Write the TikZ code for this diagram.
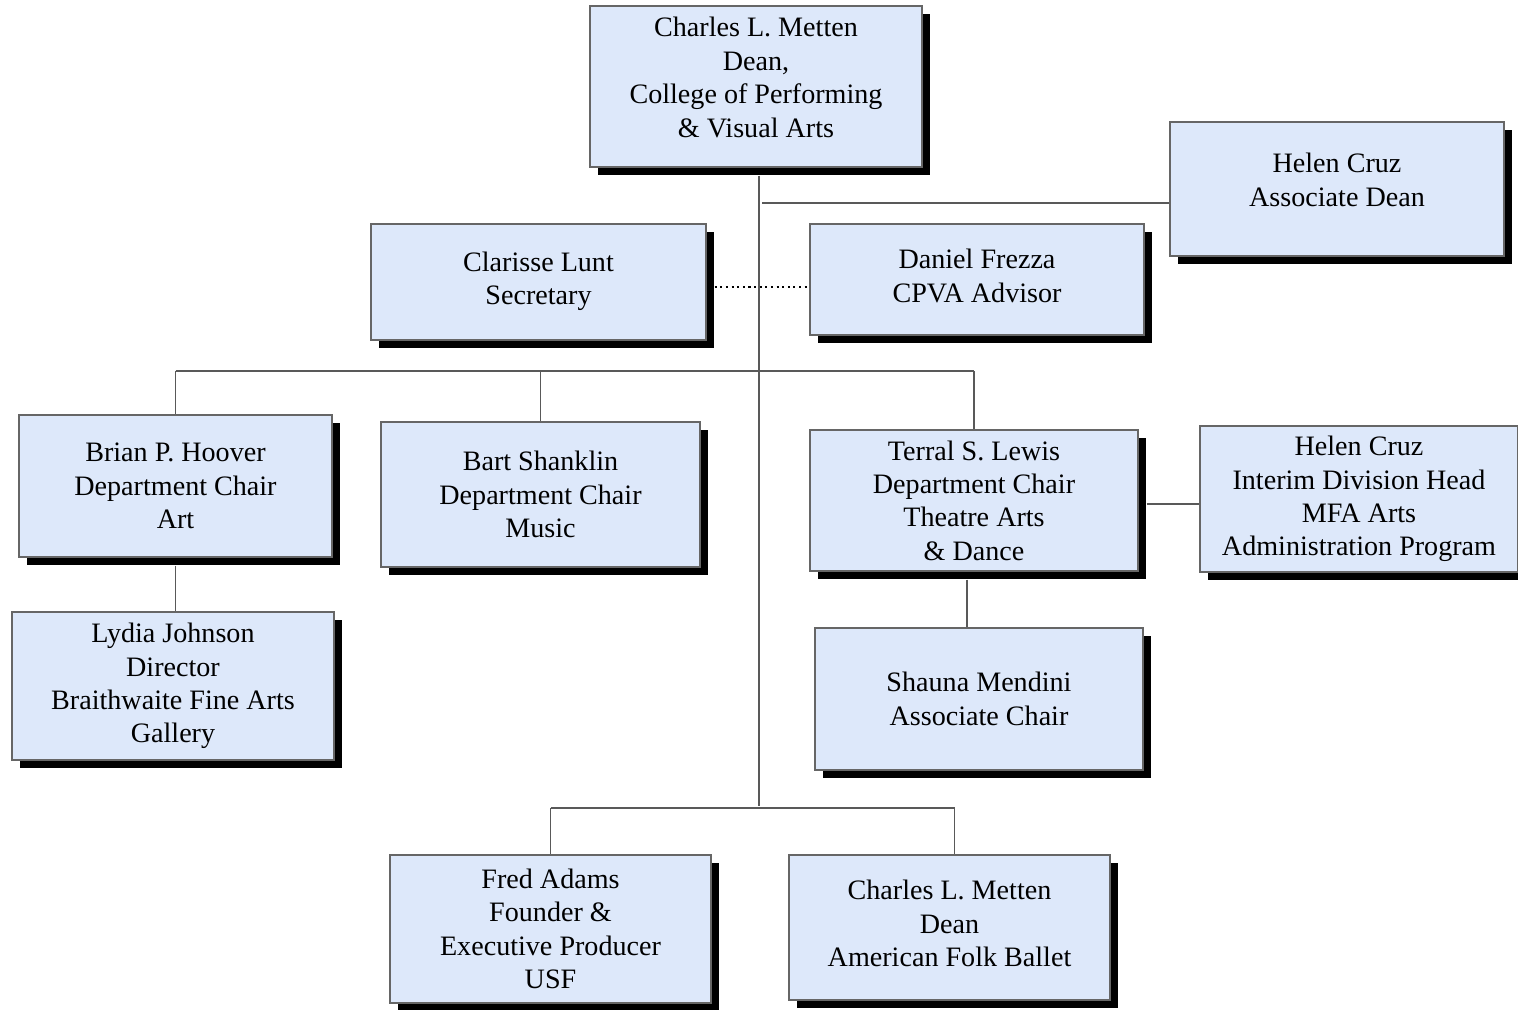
\documentclass[tikz,border=0pt]{standalone}
\usepackage{fontspec}
\setmainfont{Liberation Serif}
\usetikzlibrary{shadows}
\definecolor{boxblue}{RGB}{221,232,250}
\begin{document}
\begin{tikzpicture}[x=0.02cm, y=-0.02cm]
    % --- Styles ---
    \tikzstyle{person}=[draw=black!60, line width=0.8pt, fill=boxblue, align=center, inner sep=2pt,
        font=\fontsize{16}{19}\selectfont,
        drop shadow={fill=black, opacity=1, shadow xshift=0.16cm, shadow yshift=-0.16cm}]
    \tikzstyle{link}=[draw=black!65, line width=0.8pt]
    \tikzstyle{dotlink}=[draw=black, line width=1.2pt, dotted]

    \useasboundingbox (0,0) rectangle (1518,1009);

    % --- 1. Dean and staff ---
    \node[person, minimum width=6.64cm, minimum height=3.22cm] (dean) at (756,86.5)
        {Charles L. Metten\\Dean,\\College of Performing\\\& Visual Arts\\[-0.3cm]};
    \node[person, minimum width=6.68cm, minimum height=2.68cm] (assoc) at (1337,189)
        {Helen Cruz\\Associate Dean\\[-0.3cm]};
    \node[person, minimum width=6.70cm, minimum height=2.32cm] (secr) at (538.5,282)
        {Clarisse Lunt\\Secretary\\[-0.51cm]};
    \node[person, minimum width=6.68cm, minimum height=2.22cm] (advisor) at (977,279.5)
        {Daniel Frezza\\CPVA Advisor\\[-0.51cm]};

    % --- 2. Departments ---
    \node[person, minimum width=6.26cm, minimum height=2.84cm] (art) at (175.5,486)
        {Brian P. Hoover\\Department Chair\\Art};
    \node[person, minimum width=6.38cm, minimum height=2.90cm] (music) at (540.5,494.5)
        {Bart Shanklin\\Department Chair\\Music};
    \node[person, minimum width=6.56cm, minimum height=2.82cm] (theatre) at (974,500.5)
        {Terral S. Lewis\\Department Chair\\Theatre Arts\\\& Dance};
    \node[person, minimum width=6.36cm, minimum height=2.92cm] (mfa) at (1359,499)
        {Helen Cruz\\Interim Division Head\\MFA Arts\\Administration Program};
    \node[person, minimum width=6.44cm, minimum height=2.96cm] (gallery) at (173,686)
        {Lydia Johnson\\Director\\Braithwaite Fine Arts\\Gallery};
    \node[person, minimum width=6.56cm, minimum height=2.84cm] (assocchair) at (979,699)
        {Shauna Mendini\\Associate Chair};

    % --- 3. Ballet ---
    \node[person, minimum width=6.42cm, minimum height=2.96cm] (founder) at (550.5,929)
        {Fred Adams\\Founder \&\\Executive Producer\\USF};
    \node[person, minimum width=6.42cm, minimum height=2.90cm] (folk) at (949.5,927.5)
        {Charles L. Metten\\Dean\\American Folk Ballet\\[-0.51cm]};

    % --- 4. Connectors ---
    \coordinate (trunk) at (759,806);
    \coordinate (adj) at (762,203);
    \coordinate (bus1) at (759,371);
    \coordinate (bus2) at (759,808);
    \draw[link] ([yshift=-0.16cm]dean.south -| trunk) -- (trunk);
    \draw[link] (adj) -- (adj -| assoc.west);
    \draw[dotlink] ([shift={(0.16cm,-0.1cm)}]secr.east) -- ([yshift=-0.1cm]secr.east -| advisor.west);

    \draw[link] (art.north |- bus1) -- (theatre.north |- bus1);
    \draw[link] (art.north |- bus1) -- (art.north);
    \draw[link] (music.north |- bus1) -- (music.north);
    \draw[link] (theatre.north |- bus1) -- (theatre.north);
    \draw[link] ([yshift=-0.16cm]art.south) -- (art.south |- gallery.north);
    \draw[link] ([shift={(0.16cm,-0.07cm)}]theatre.east) -- ([yshift=-0.07cm]theatre.east -| mfa.west);
    \draw[link] ([shift={(-0.14cm,-0.16cm)}]theatre.south) -- ([xshift=-0.14cm]theatre.south |- assocchair.north);

    \draw[link] (founder.north |- bus2) -- ([xshift=0.1cm]folk.north |- bus2);
    \draw[link] (founder.north |- bus2) -- (founder.north);
    \draw[link] ([xshift=0.1cm]folk.north |- bus2) -- ([xshift=0.1cm]folk.north);

\end{tikzpicture}
\end{document}
